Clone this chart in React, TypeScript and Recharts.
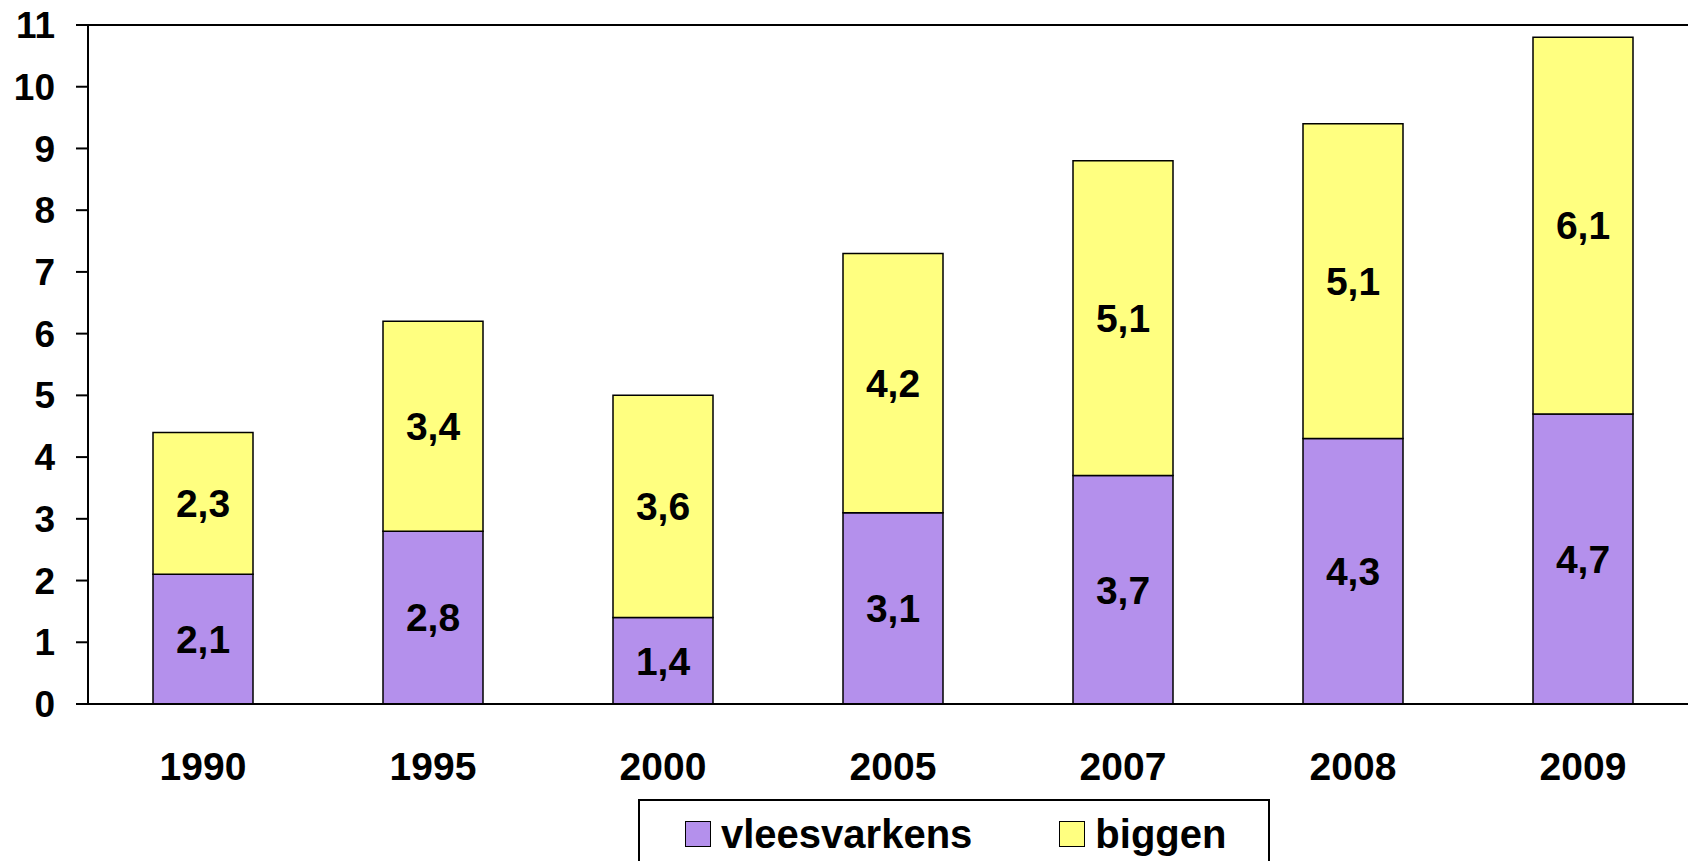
import React from 'react';
import {
  BarChart, Bar, XAxis, YAxis, Legend, ReferenceLine, LabelList
} from 'recharts';

const COLORS = {
  vlees: '#B490EC',
  biggen: '#FFFF80',
  line: '#000000'
};

// jaren op de x-as
const years = ['1990', '1995', '2000', '2005', '2007', '2008', '2009'];
// vleesvarkens (onderste deel van de staaf)
const vleesvarkens = [2.1, 2.8, 1.4, 3.1, 3.7, 4.3, 4.7];
// biggen (bovenste deel van de staaf)
const biggen = [2.3, 3.4, 3.6, 4.2, 5.1, 5.1, 6.1];
const yTicks = [0, 1, 2, 3, 4, 5, 6, 7, 8, 9, 10, 11];
// volgorde in de legenda
const seriesOrder = ['vleesvarkens', 'biggen'];

const data = years.map((year, i) => ({
  year,
  vleesvarkens: vleesvarkens[i],
  biggen: biggen[i]
}));

const FONT = '"Liberation Sans", Arial, sans-serif';

const fmt = (v: any) => String(v).replace('.', ',');

const renderLegend = (props: any) => {
  const payload = [...(props.payload || [])].sort(
    (a: any, b: any) => seriesOrder.indexOf(a.dataKey) - seriesOrder.indexOf(b.dataKey)
  );
  return (
    <div
      style={{
        boxSizing: 'border-box',
        width: 632,
        height: 80,
        border: '2px solid #000',
        background: '#fff',
        display: 'flex',
        alignItems: 'flex-start',
        paddingLeft: 45,
        paddingTop: 19,
        fontFamily: FONT,
        fontWeight: 'bold',
        fontSize: 40
      }}
    >
      {payload.map((entry: any, i: number) => (
        <div
          key={`leg-${i}`}
          style={{ display: 'flex', alignItems: 'center', height: 27, marginRight: i === 0 ? 87 : 0 }}
        >
          <span
            style={{
              display: 'inline-block',
              boxSizing: 'border-box',
              width: 26,
              height: 26,
              background: entry.color,
              border: '1.5px solid #000',
              marginRight: 10
            }}
          />
          <span style={{ lineHeight: '40px', color: '#000' }}>{entry.value}</span>
        </div>
      ))}
    </div>
  );
};

export default function App() {
  return (
    <div
      style={{
        position: 'absolute',
        left: 0,
        top: 0,
        width: 1688,
        height: 861,
        overflow: 'hidden',
        background: '#fff'
      }}
    >
      <BarChart
        width={1700}
        height={884}
        data={data}
        margin={{ top: 25, right: 2, left: 0, bottom: 0 }}
      >
        <XAxis
          dataKey="year"
          height={100}
          axisLine={{ stroke: COLORS.line, strokeWidth: 2 }}
          tickLine={false}
          tickSize={0}
          tickMargin={48}
          tick={{ fontSize: 39, fontWeight: 'bold', fontFamily: FONT, fill: '#000' }}
        />
        <YAxis
          width={88}
          domain={[0, 11]}
          ticks={yTicks}
          interval={0}
          axisLine={{ stroke: COLORS.line, strokeWidth: 2 }}
          tickLine={{ stroke: COLORS.line, strokeWidth: 2 }}
          tickSize={12}
          tickMargin={21}
          tick={{ fontSize: 37, fontWeight: 'bold', fontFamily: FONT, fill: '#000' }}
        />
        <ReferenceLine y={11} stroke={COLORS.line} strokeWidth={2} />
        <Legend
          verticalAlign="bottom"
          content={renderLegend}
          wrapperStyle={{ left: 638, top: 799, bottom: 'auto', width: 632 }}
        />
        <Bar
          dataKey="vleesvarkens"
          stackId="a"
          fill={COLORS.vlees}
          stroke="#000"
          strokeWidth={1.5}
          barSize={100}
          isAnimationActive={false}
        >
          <LabelList
            dataKey="vleesvarkens"
            position="center"
            formatter={fmt}
            fill="#000"
            fontSize={39}
            fontWeight="bold"
            fontFamily={FONT}
          />
        </Bar>
        <Bar
          dataKey="biggen"
          stackId="a"
          fill={COLORS.biggen}
          stroke="#000"
          strokeWidth={1.5}
          barSize={100}
          isAnimationActive={false}
        >
          <LabelList
            dataKey="biggen"
            position="center"
            formatter={fmt}
            fill="#000"
            fontSize={39}
            fontWeight="bold"
            fontFamily={FONT}
          />
        </Bar>
      </BarChart>
    </div>
  );
}
